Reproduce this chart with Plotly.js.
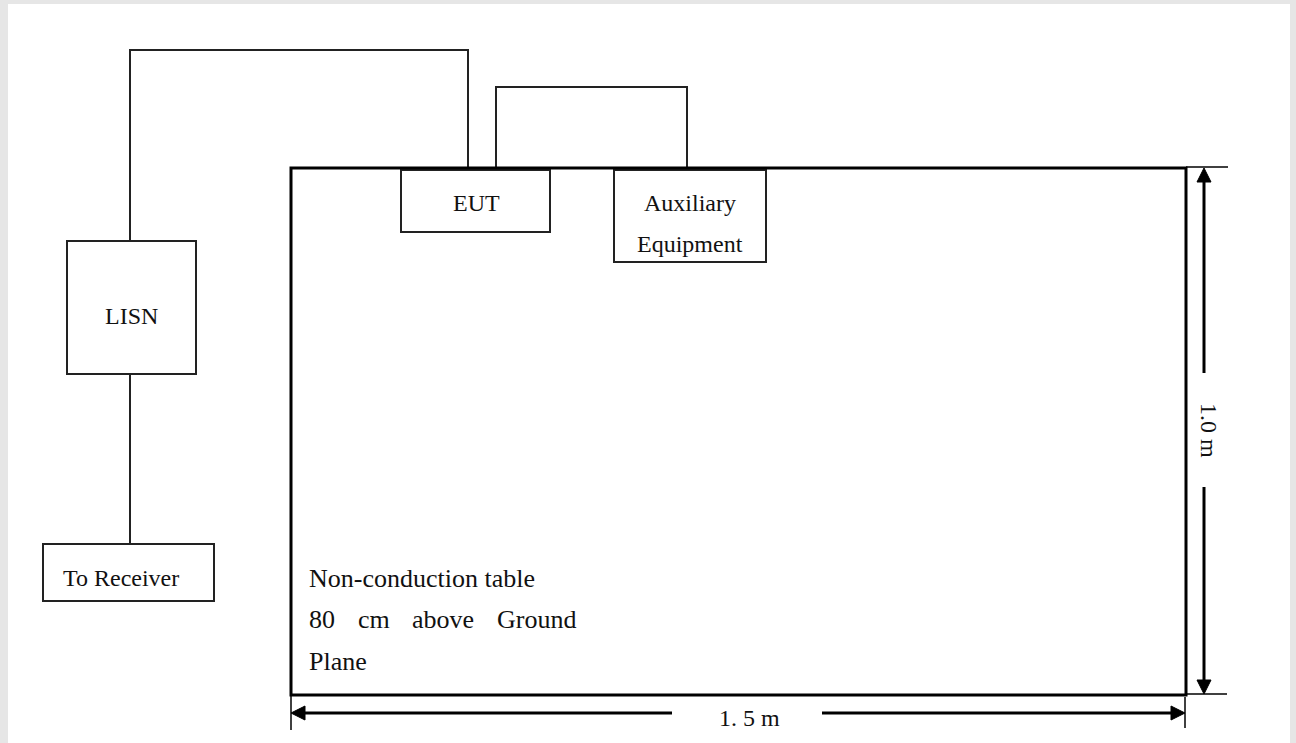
<!DOCTYPE html>
<html>
<head>
<meta charset="utf-8">
<script src="https://cdn.plot.ly/plotly-3.0.1.min.js"></script>
<style>html,body{margin:0;padding:0;background:#e6e6e6;}#chart{width:1296px;height:743px;}</style>
</head>
<body>
<div id="chart"></div>
<script>
// ---- diagram geometry (page units) ----
const boxLabels = ["LISN", "To Receiver", "EUT", "Auxiliary", "Equipment"];
const boxLabelX = [131, 121, 476, 690, 690];
const boxLabelY = [316, 578, 203, 203, 244];
const boxX0 = [67, 43, 401, 614];
const boxX1 = [196, 214, 550, 766];
const boxY0 = [241, 544, 170, 170];
const boxY1 = [374, 601, 232, 262];

const wireLisnEutX = [130, 130, 468, 468];
const wireLisnEutY = [241, 50, 50, 168];
const wireEutAuxX = [496, 496, 687, 687];
const wireEutAuxY = [168, 87, 87, 168];
const wireRxX = [130, 130];
const wireRxY = [374, 544];

const tableX = [291, 1186];
const tableY = [168, 695];

const tableWords = ["Non-conduction table", "80", "cm", "above", "Ground", "Plane"];
const tableWordX = [307, 307, 356, 410, 495, 307];
const tableWordY = [578, 619, 619, 619, 619, 661];

const dimLabels = ["1.0 m", "1. 5 m"];
const dimVX = 1204;          // vertical dimension line x
const dimVY = [168, 694];    // ends
const dimVGap = [373, 487];
const dimHY = 713;           // horizontal dimension line y
const dimHX = [291, 1185];
const dimHGap = [672, 822];

const ink = "#111111";
const shapes = [];
// white page
shapes.push({type: "rect", xref: "x", yref: "y", x0: 8, x1: 1290, y0: 4, y1: 743,
  fillcolor: "#ffffff", line: {width: 0}, layer: "below"});
// boxes
for (let i = 0; i < boxX0.length; i++) {
  shapes.push({type: "rect", x0: boxX0[i], x1: boxX1[i], y0: boxY0[i], y1: boxY1[i],
    line: {color: "#222", width: 2}, fillcolor: "rgba(0,0,0,0)"});
}
// table
shapes.push({type: "rect", x0: tableX[0], x1: tableX[1], y0: tableY[0], y1: tableY[1],
  line: {color: "#000", width: 3}});
function seg(x0, y0, x1, y1, w) {
  shapes.push({type: "line", x0: x0, y0: y0, x1: x1, y1: y1, line: {color: "#000", width: w}});
}
// extension ticks
seg(tableX[1], dimVY[0] - 1, 1228, dimVY[0] - 1, 1.5);
seg(tableX[1], dimVY[1], 1227, dimVY[1], 1.5);
seg(dimHX[0], 692, dimHX[0], 730, 1.5);
seg(dimHX[1], 697, dimHX[1], 728, 1.5);
// dimension lines with gaps
const ah = 14, aw = 7;
seg(dimVX, dimVY[0] + ah, dimVX, dimVGap[0], 3);
seg(dimVX, dimVGap[1], dimVX, dimVY[1] - ah, 3);
seg(dimHX[0] + ah, dimHY, dimHGap[0], dimHY, 3);
seg(dimHGap[1], dimHY, dimHX[1] - ah, dimHY, 3);
// arrowheads
function tri(p) {
  shapes.push({type: "path", path: p, fillcolor: "#000", line: {color: "#000", width: 1}});
}
tri(`M${dimVX},${dimVY[0]} L${dimVX - aw},${dimVY[0] + ah} L${dimVX + aw},${dimVY[0] + ah} Z`);
tri(`M${dimVX},${dimVY[1]} L${dimVX - aw},${dimVY[1] - ah} L${dimVX + aw},${dimVY[1] - ah} Z`);
tri(`M${dimHX[0]},${dimHY} L${dimHX[0] + ah},${dimHY - aw} L${dimHX[0] + ah},${dimHY + aw} Z`);
tri(`M${dimHX[1]},${dimHY} L${dimHX[1] - ah},${dimHY - aw} L${dimHX[1] - ah},${dimHY + aw} Z`);

const serif = "Liberation Serif";
const font = {family: serif, size: 24, color: ink};
const annotations = [];
for (let i = 0; i < boxLabels.length; i++) {
  annotations.push({x: boxLabelX[i], y: boxLabelY[i], text: boxLabels[i], showarrow: false,
    xanchor: "center", yanchor: "middle", font: font});
}
for (let i = 0; i < tableWords.length; i++) {
  annotations.push({x: tableWordX[i], y: tableWordY[i], text: tableWords[i], showarrow: false,
    xanchor: "left", yanchor: "middle", font: {family: serif, size: 26, color: ink}});
}
annotations.push({x: 1209, y: (dimVGap[0] + dimVGap[1]) / 2, text: dimLabels[0], showarrow: false,
  textangle: 90, xanchor: "center", yanchor: "middle", font: {family: serif, size: 24, color: ink}});
annotations.push({x: (dimHGap[0] + dimHGap[1]) / 2 + 2, y: 718, text: dimLabels[1], showarrow: false,
  xanchor: "center", yanchor: "middle", font: {family: serif, size: 24, color: ink}});

const wireLine = {color: "#222", width: 2};
const traces = [
  {x: wireLisnEutX, y: wireLisnEutY, mode: "lines", line: wireLine, hoverinfo: "skip"},
  {x: wireEutAuxX, y: wireEutAuxY, mode: "lines", line: wireLine, hoverinfo: "skip"},
  {x: wireRxX, y: wireRxY, mode: "lines", line: wireLine, hoverinfo: "skip"}
];

const layout = {
  width: 1296, height: 743,
  margin: {l: 0, r: 0, t: 0, b: 0},
  paper_bgcolor: "#e6e6e6", plot_bgcolor: "rgba(0,0,0,0)",
  showlegend: false,
  xaxis: {range: [0, 1296], visible: false, fixedrange: true},
  yaxis: {range: [743, 0], visible: false, fixedrange: true},
  shapes: shapes,
  annotations: annotations
};
Plotly.newPlot("chart", traces, layout, {displayModeBar: false, staticPlot: true});
</script>
</body>
</html>
